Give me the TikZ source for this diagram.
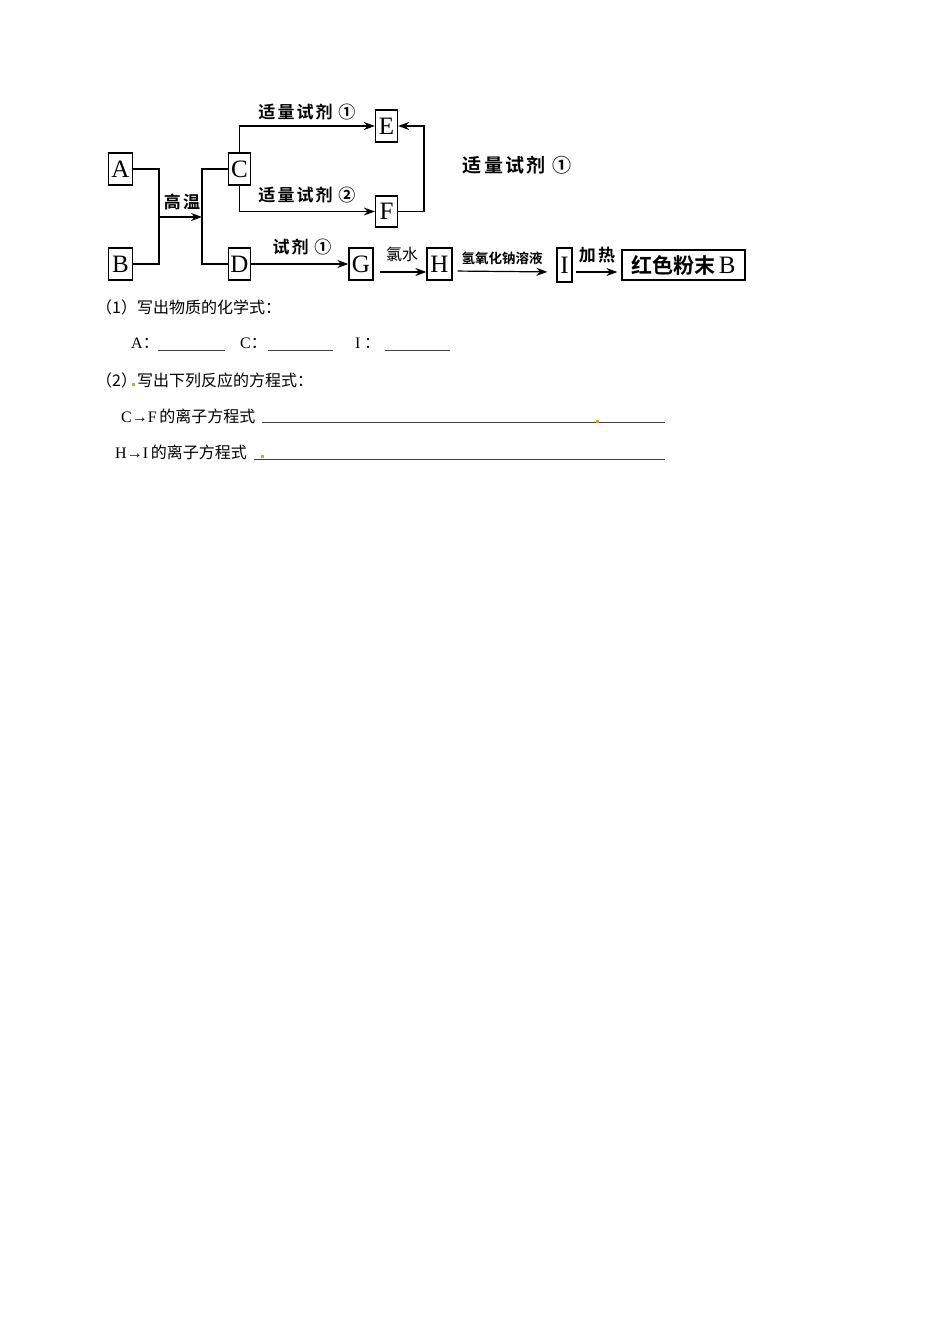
\documentclass[tikz,border=0pt]{standalone}
\usepackage{fontspec}
\setmainfont{Liberation Serif}
\newfontfamily\cjk{Noto Sans CJK SC}
\newfontfamily\cjkb{Noto Sans CJK SC Bold}[LetterSpace=12]
\newfontfamily\cjkbn{Noto Sans CJK SC Bold}
\usetikzlibrary{arrows.meta}
\definecolor{dotorange}{HTML}{E0A040}
\tikzset{
  box/.style={draw, line width=1.3pt, inner sep=0pt, font=\fontsize{25}{25}\selectfont},
  conn/.style={line width=1.2pt},
  arr/.style={line width=1.2pt, -{Stealth[length=11pt,width=8pt]}},
  lab/.style={inner sep=0pt, font=\cjkb\fontsize{17}{17}\selectfont},
  txt/.style={inner sep=0pt, anchor=west, font=\cjk\fontsize{16}{16}\selectfont},
  uline/.style={line width=0.8pt, draw=black!75},
}
\begin{document}
\begin{tikzpicture}[x=1pt,y=-1pt]
\useasboundingbox (0,0) rectangle (950,1344);
% boxes
\node[box, minimum width=24pt, minimum height=32pt] (A) at (120.5,169) {A};
\node[box, minimum width=24pt, minimum height=32pt] (B) at (120.5,264) {B};
\node[box, minimum width=22pt, minimum height=32pt] (C) at (239.5,169) {C};
\node[box, minimum width=22pt, minimum height=32pt] (D) at (239.5,264) {D};
\node[box, minimum width=22pt, minimum height=32pt] (E) at (386.5,126) {E};
\node[box, minimum width=22pt, minimum height=31pt] (F) at (386.5,211.5) {F};
\node[box, minimum width=24pt, minimum height=32pt] (G) at (361,264) {G};
\node[box, minimum width=25pt, minimum height=32pt] (H) at (439.5,264) {H};
\node[box, minimum width=15pt, minimum height=34pt] (I) at (564.5,265) {I};
\node[box, minimum width=123pt, minimum height=30pt] (R) at (683.5,265) {\cjkbn\fontsize{21}{21}\selectfont 红色粉末\,{\rmfamily\fontsize{25}{25}\selectfont B}};
% junctions
\coordinate (j1) at (159,217);
\coordinate (j2) at (202,217);
\coordinate (k) at (424,170);
% connectors
\draw[conn] (A.east) -| (j1) |- (B.east);
\draw[arr] (j1) -- (j2);
\draw[conn] (C.west) -| (j2) |- (D.west);
\draw[arr] (C.north) |- (E.west);
\draw[arr] (C.south) |- (F.west);
\draw[conn] (F.east) -| (k);
\draw[arr] (k) |- (E.east);
\draw[arr] (D.east) -- (G.west);
\draw[arr, shorten <=6pt] ([yshift=-8pt]G.east) -- ([yshift=-8pt]H.west);
\draw[arr, shorten <=5pt, shorten >=9pt] ([yshift=-7pt]H.east) -- ([yshift=-7pt]I.west);
\draw[arr, shorten <=3pt, shorten >=4pt] ([yshift=-7pt]I.east) -- ([yshift=-7pt]R.west);
% labels
\node[lab] (l1) at (182,202) {高温};
\node[lab] (l2) at (307,112) {适量试剂 ①};
\node[lab] (l3) at (307,195) {适量试剂 ②};
\node[lab] (l4) at (302,247) {试剂 ①};
\node[inner sep=0pt, font=\cjk\fontsize{16}{16}\selectfont] (l5) at (402,254) {氯水};
\node[inner sep=0pt, font=\cjkbn\fontsize{13.5}{13.5}\selectfont] (l6) at (502,258) {氢氧化钠溶液};
\node[lab] (l7) at (597,255) {加热};
\node[inner sep=0pt, font=\cjkb\fontsize{19}{19}\selectfont] (l8) at (517,165) {适量试剂 ①};
% question text
\node[txt] (q1) at (96,307) {（1）写出物质的化学式：};
\node[txt] (qA) at (131,343) {{\rmfamily A}：};
\node[txt] (qC) at (240,343) {{\rmfamily C}：};
\node[txt] (qI) at (355,343) {{\rmfamily I} ：};
\draw[uline] (158,350) -- (225,350);
\draw[uline] (268,350) -- (333,350);
\draw[uline] (385,350) -- (450,350);
\node[txt] (q2) at (96,380) {（2）写出下列反应的方程式：};
\fill[dotorange] (132,383) rectangle (134.5,386);
\node[txt] (q3) at (121,416) {{\rmfamily C→F}\,的离子方程式};
\draw[uline] (262,422) -- (665,422);
\fill[dotorange] (596,420) rectangle (598.5,423);
\node[txt] (q4) at (115,452) {{\rmfamily H→I}\,的离子方程式};
\draw[uline] (254,459) -- (665,459);
\fill[dotorange] (261,455) rectangle (263.5,458);
\end{tikzpicture}
\end{document}
